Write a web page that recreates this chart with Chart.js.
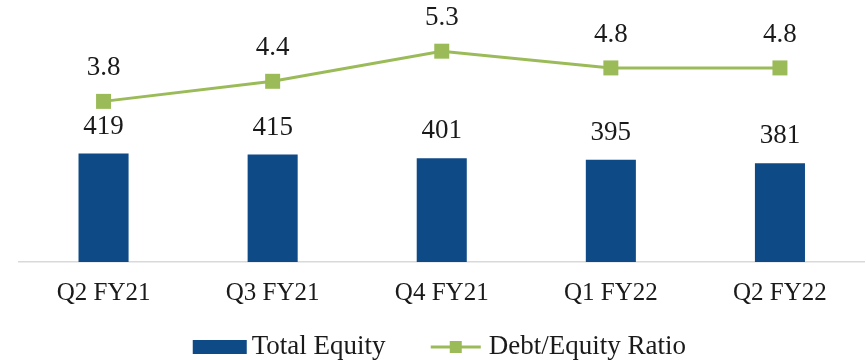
<!DOCTYPE html>
<html>
<head>
<meta charset="utf-8">
<script src="https://cdn.jsdelivr.net/npm/chart.js@4.4.1/dist/chart.umd.min.js"></script>
<style>
  html, body { margin: 0; padding: 0; background: #fff; overflow: hidden; }
  #wrap { width: 866px; height: 360px; }
</style>
</head>
<body>
<div id="wrap"><canvas id="chartEl"></canvas></div>
<script>
/************ DATA ************/
const quarters = ["Q2 FY21", "Q3 FY21", "Q4 FY21", "Q1 FY22", "Q2 FY22"];
const totalEquity = [419, 415, 401, 395, 381];
const debtEquity = [3.8, 4.4, 5.3, 4.8, 4.8];
const seriesNames = ["Total Equity", "Debt/Equity Ratio"];

/************ STYLE ************/
const BLUE = "#0e4a86";
const GREEN = "#9bbb59";
const FONT = "'Liberation Serif', 'DejaVu Serif', serif";
const TEXT = "#1a1a1a";

/************ VALUE LABELS ************/
const valueLabels = {
    id: "valueLabels",
    afterDatasetsDraw(chart) {
        const ctx = chart.ctx;
        ctx.save();
        ctx.font = `27px ${FONT}`;
        ctx.fillStyle = TEXT;
        ctx.textAlign = "center";
        ctx.textBaseline = "middle";
        chart.data.datasets.forEach((ds, di) => {
            const meta = chart.getDatasetMeta(di);
            const gap = ds.type === "line" ? 33 : 27;
            meta.data.forEach((el, i) => {
                const v = ds.data[i];
                const txt = ds.type === "line" ? v.toFixed(1) : String(v);
                ctx.fillText(txt, el.x, el.y - gap);
            });
        });
        ctx.restore();
    }
};

/************ LEGEND ************/
const bottomLegend = {
    id: "bottomLegend",
    afterDraw(chart) {
        const ctx = chart.ctx;
        const y = 347;
        const area = chart.chartArea;
        const x0 = (area.left + area.right) / 2 - 249;
        ctx.save();
        ctx.font = `27px ${FONT}`;
        ctx.textBaseline = "middle";

        // bar swatch + label
        ctx.fillStyle = BLUE;
        ctx.fillRect(x0, y - 7, 54, 14);
        ctx.fillStyle = TEXT;
        ctx.fillText(seriesNames[0], x0 + 59, y);

        // line swatch with marker + label
        const lx = x0 + 238;
        ctx.strokeStyle = GREEN;
        ctx.lineWidth = 3;
        ctx.beginPath();
        ctx.moveTo(lx, y);
        ctx.lineTo(lx + 50, y);
        ctx.stroke();
        ctx.fillStyle = GREEN;
        ctx.fillRect(lx + 25 - 6, y - 6, 12, 12);
        ctx.fillStyle = TEXT;
        ctx.fillText(seriesNames[1], x0 + 296, y);
        ctx.restore();
    }
};

/************ CHART ************/
new Chart(chartEl, {
    data: {
        labels: quarters,
        datasets: [
            {
                type: "line",
                label: seriesNames[1],
                data: debtEquity,
                yAxisID: "y1",
                borderColor: GREEN,
                borderWidth: 3,
                pointStyle: "rect",
                pointRadius: 10.6,
                pointHoverRadius: 10.6,
                pointBackgroundColor: GREEN,
                pointBorderWidth: 0,
                tension: 0,
                clip: false,
                order: 0
            },
            {
                type: "bar",
                label: seriesNames[0],
                data: totalEquity,
                yAxisID: "y",
                backgroundColor: BLUE,
                barPercentage: 0.296,
                categoryPercentage: 1,
                order: 1
            }
        ]
    },
    options: {
        responsive: true,
        maintainAspectRatio: false,
        animation: false,
        devicePixelRatio: 1,
        layout: { autoPadding: false, padding: { top: 3, left: 19, right: 1.5, bottom: 36 } },
        plugins: {
            legend: { display: false },
            tooltip: { enabled: false }
        },
        scales: {
            x: {
                grid: { display: false, drawTicks: false },
                border: { display: true, color: "#d9d9d9", width: 1.5 },
                ticks: { color: TEXT, font: { family: FONT, size: 25 }, padding: 16 }
            },
            y: { display: false, min: 0, max: 1000 },
            y1: { display: false, min: -1, max: 6.74 }
        }
    },
    plugins: [valueLabels, bottomLegend]
});
</script>
</body>
</html>
